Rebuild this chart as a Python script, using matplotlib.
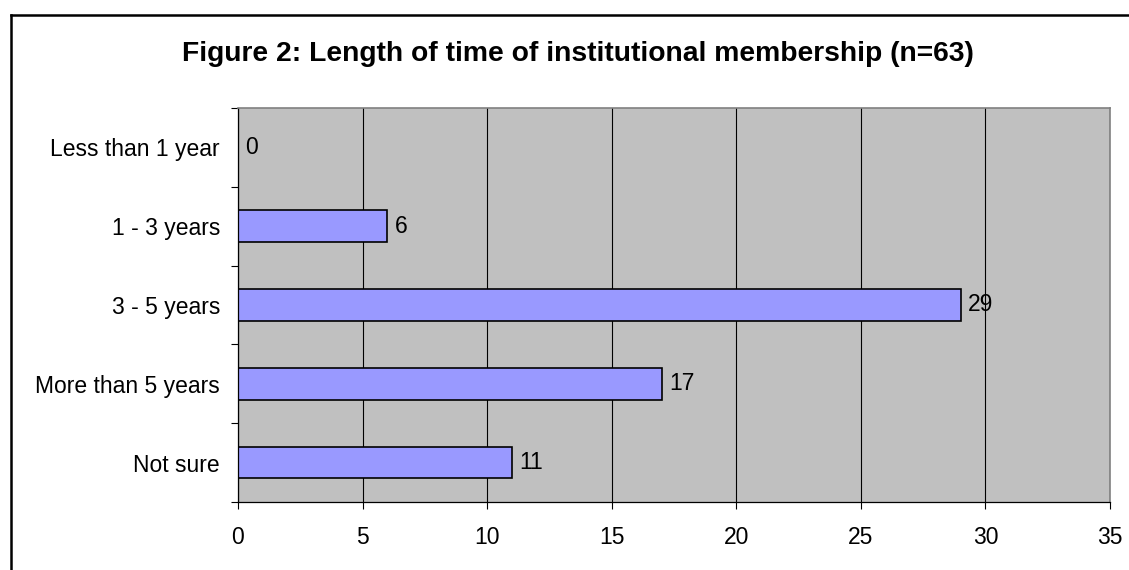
import matplotlib.pyplot as plt
from matplotlib.lines import Line2D

categories = ['Less than 1 year', '1 - 3 years', '3 - 5 years', 'More than 5 years', 'Not sure']
counts = [0, 6, 29, 17, 11]
title = 'Figure 2: Length of time of institutional membership (n=63)'

plt.rcParams['font.family'] = ['Liberation Sans', 'DejaVu Sans']

fig = plt.figure(figsize=(11.29, 5.70), dpi=100)
ax = fig.add_axes([238 / 1129, 1 - 502 / 570, (1110 - 238) / 1129, (502 - 108) / 570])
ax.set_facecolor('#c0c0c0')

# top category first
pos = list(range(len(categories)))[::-1]
ax.barh(pos, counts, height=0.4, color='#9999ff', edgecolor='black', linewidth=1.2, zorder=2)
for p, v in zip(pos, counts):
    ax.text(v + 0.3, p, str(v), va='center', ha='left', fontsize=16.5, zorder=0.4)

ax.set_xlim(0, 35)
ax.set_ylim(-0.5, len(categories) - 0.5)
ax.set_xticks(range(0, 36, 5))
ax.set_yticks(pos)
ax.set_yticklabels(categories)
ax.set_yticks([i - 0.5 for i in range(len(categories) + 1)], minor=True)

ax.set_axisbelow(True)
ax.grid(axis='x', color='black', linewidth=0.8)
ax.tick_params(axis='x', direction='out', length=5, width=0.8, labelsize=16.5, pad=12)
ax.tick_params(axis='y', which='major', length=0, labelsize=16.5, pad=13)
ax.tick_params(axis='y', which='minor', direction='out', length=5, width=0.8)

for side in ['left', 'bottom']:
    ax.spines[side].set_color('black')
    ax.spines[side].set_linewidth(0.9)
for side in ['top', 'right']:
    ax.spines[side].set_color('#808080')
    ax.spines[side].set_linewidth(1.2)

fig.text(578 / 1129, 1 - 54 / 570, title, ha='center', va='center',
         fontsize=20.3, fontweight='bold')

# chart frame
fig.add_artist(Line2D([10.5 / 1129, 10.5 / 1129], [0, 1 - 15 / 570], color='black', linewidth=1.8))
fig.add_artist(Line2D([10.5 / 1129, 1], [1 - 15 / 570, 1 - 15 / 570], color='black', linewidth=1.8))

fig.savefig('out.png', dpi=100)
